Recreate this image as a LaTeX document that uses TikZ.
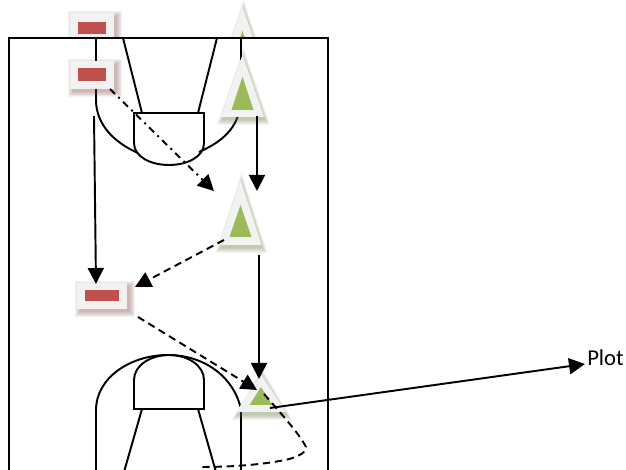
\documentclass[tikz,border=0pt]{standalone}
\usepackage{fontspec}
\setmainfont{Carlito}
\usetikzlibrary{arrows.meta,shapes.geometric,calc}
\definecolor{boxgrey}{HTML}{F2F2F2}
\definecolor{redfill}{HTML}{C0504D}
\definecolor{greenfill}{HTML}{9BBB59}
\definecolor{redshade}{HTML}{7A3C3C}
\definecolor{greenshade}{HTML}{5F7340}
\tikzset{
  courtline/.style={line width=1.45pt,black},
  conn/.style={line width=1.45pt,black,-{Triangle[length=12pt,width=12pt]}},
  dashconn/.style={conn,dash pattern=on 5.5pt off 3.6pt},
  dotconn/.style={conn,dash pattern=on 5.2pt off 3.5pt on 1.5pt off 3.5pt},
}
% \redmark{name}{cx}{cy}{box w}{box h}{red w}{red h}  (pixels)
\newcommand{\redmark}[7]{%
  \foreach \k in {5,4,3,2,1,0}{%
    \fill[redshade,opacity=.07] (#2+2.5-#4/2-\k,#3+3-#5/2-\k) rectangle (#2+2.5+#4/2+\k,#3+3+#5/2+\k);}
  \node[rectangle,inner sep=0pt,fill=boxgrey,minimum width=#4*.75pt,minimum height=#5*.75pt] (#1) at (#2,#3) {};
  \node[rectangle,inner sep=0pt,fill=redfill,minimum width=#6*.75pt,minimum height=#7*.75pt] (#1in) at (#2,#3) {};
}
% \greenmark{name}{cx}{apex y}{base y}{half base}{green apex y}{green base y}{green half base}
\newcommand{\greenmark}[8]{%
  \foreach \k in {5,4,3,2,1,0}{%
    \fill[greenshade,opacity=.075] (#2+1,#3+3-2*\k) -- (#2+1+#5+\k,#4+3+\k) -- (#2+1-#5-\k,#4+3+\k) -- cycle;}
  \fill[boxgrey] (#2,#3) -- (#2+#5,#4) -- (#2-#5,#4) -- cycle;
  \fill[greenfill] (#2,#6) -- (#2+#8,#7) -- (#2-#8,#7) -- cycle;
  \coordinate (#1) at (#2,#4);
}
\begin{document}
\begin{tikzpicture}[x=0.75pt,y=-0.75pt]
\useasboundingbox (0,0) rectangle (626,470);
\clip (0,0) rectangle (626,470);
\fill[white] (0,0) rectangle (626,470);
% markers behind the court
\redmark{ra}{92}{28}{44}{30}{28}{12}
\greenmark{ta}{242.5}{7}{69}{21.5}{31}{62}{11}
% court
\filldraw[courtline,fill=white] (9,38) rectangle (328,490);
\coordinate (keyTL) at (123,38);
\coordinate (keyTR) at (217,38);
\coordinate (keyBL) at (142,113);
\coordinate (keyBR) at (198,113);
\draw[courtline] (keyTL) -- (keyBL);
\draw[courtline] (keyTR) -- (keyBR);
\draw[courtline] (134,113) -- (204,113) -- (204,143) .. controls (204,157) and (187,165) .. (169,165) .. controls (151,165) and (134,157) .. (134,143) -- cycle;
\draw[courtline] (96,38) -- (96,100) .. controls (96,125) and (115,143) .. (138,153);
\draw[courtline] (199,152) .. controls (222,142) and (233,130) .. (238,116);
\draw[courtline] (241,38) -- (241,60);
% lower key
\coordinate (lowTL) at (142,409);
\coordinate (lowTR) at (198,409);
\coordinate (lowBL) at (124,472);
\coordinate (lowBR) at (216,472);
\draw[courtline] (96,475) -- (96,410) .. controls (96,378) and (130,355) .. (168,355) .. controls (205,355) and (235,378) .. (241,410) -- (241,475);
\draw[courtline] (134,409) -- (204,409) -- (204,380) .. controls (204,365) and (187,355) .. (169,355) .. controls (151,355) and (134,365) .. (134,380) -- cycle;
\draw[courtline] (lowTL) -- (lowBL);
\draw[courtline] (lowTR) -- (lowBR);
% markers on the court
\redmark{rb}{92}{75}{44}{28}{28}{13}
\greenmark{tb}{242.5}{55}{117}{21.5}{77}{110}{11}
\greenmark{tc}{240.5}{180}{245}{21}{205}{237}{11}
\redmark{rc}{102}{296}{50}{26}{34}{11}
\greenmark{td}{261}{375}{412}{25}{387}{405}{11.5}
% named connector ends
\coordinate (a1) at (94,116);   \coordinate (a2) at (96,284);
\coordinate (b1) at (110,89);   \coordinate (b2) at (214,191);
\coordinate (c1) at (257,116);  \coordinate (c2) at (257,191);
\coordinate (d1) at (224,240);  \coordinate (d2) at (135,287);
\coordinate (e1) at (138,317);  \coordinate (e2) at (257,390);
\coordinate (f1) at (259,255);  \coordinate (f2) at (259,379);
\coordinate (g1) at (270,408);
\coordinate (h1) at (264,394);  \coordinate (h2) at (200,467);
\node[font=\fontsize{17pt}{19pt}\selectfont,anchor=west,inner sep=0pt] (plot) at (587,358) {Plot};
\draw[conn] (a1) -- (a2);
\draw[dotconn] (b1) -- (b2);
\draw[conn] (c1) -- (c2);
\draw[dashconn] (d1) -- (d2);
\draw[dashconn] (e1) -- (e2);
\draw[conn] (f1) -- (f2);
\draw[conn] (g1) -- (585,364);
\draw[courtline,dash pattern=on 5.5pt off 3.6pt] (h1) .. controls (285,418) and (300,435) .. (306,447) .. controls (307,453) and (295,458) .. (285,460) .. controls (260,465) and (230,467) .. (h2);
\end{tikzpicture}
\end{document}
